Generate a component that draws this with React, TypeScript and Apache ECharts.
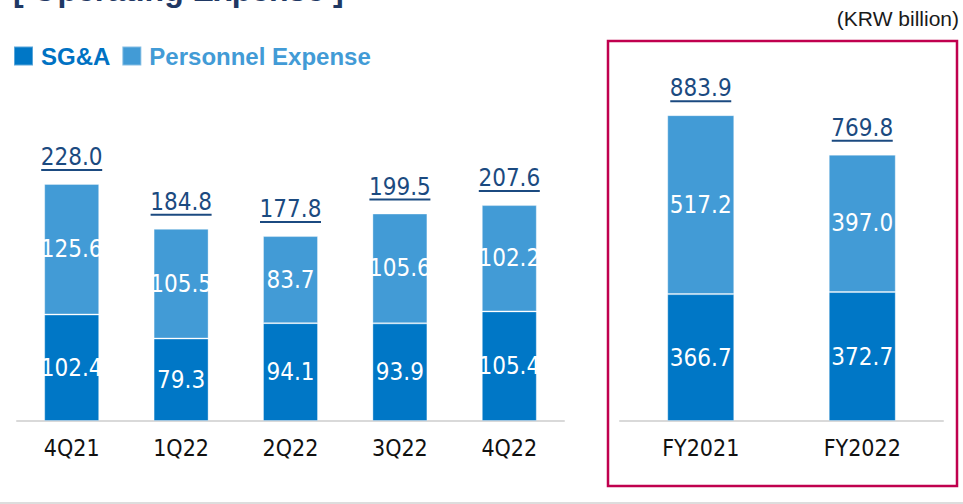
import React, { useEffect, useRef } from "react";
import * as echarts from "echarts";

const quarters = ["4Q21", "1Q22", "2Q22", "3Q22", "4Q22"];
const sgaQ = [102.4, 79.3, 94.1, 93.9, 105.4];
const personnelQ = [125.6, 105.5, 83.7, 105.6, 102.2];
const totalQ = [228.0, 184.8, 177.8, 199.5, 207.6];

const years = ["FY2021", "FY2022"];
const sgaY = [366.7, 372.7];
const personnelY = [517.2, 397.0];
const totalY = [883.9, 769.8];

const DARK = "#0077C6";
const LIGHT = "#429BD6";
const NAVY = "#1B4A80";
const NARROW = "'DejaVu Sans Condensed', 'Liberation Sans Narrow', Roboto, sans-serif";
const ARIAL = "'Liberation Sans', Arial, sans-serif";

export default function App() {
  const ref = useRef<HTMLDivElement>(null);

  useEffect(() => {
    if (!ref.current) return;
    const chart = echarts.init(ref.current, undefined, { renderer: "svg" });

    const segLabel = {
      show: true,
      position: "inside",
      color: "#ffffff",
      fontFamily: NARROW,
      fontSize: 24,
      formatter: (p: any) => Number(p.value).toFixed(1),
    };
    const totalLabel = {
      show: true,
      position: "top",
      distance: 13,
      formatter: (p: any) => `{v|${Number(p.value).toFixed(1)}}\n{u| }`,
      rich: {
        v: { color: NAVY, fontFamily: NARROW, fontSize: 24, lineHeight: 24, align: "center" },
        u: { height: 2, lineHeight: 2, fontSize: 1, width: 61, backgroundColor: NAVY, align: "center" },
      },
    };
    const itemBorder = { borderColor: "rgba(255,255,255,0.35)", borderWidth: 1 };

    const xAxisBase = {
      type: "category",
      axisTick: { show: false },
      axisLine: { lineStyle: { color: "#D9D9D9", width: 2 } },
      axisLabel: { color: "#111", fontFamily: NARROW, fontSize: 23, margin: 15 },
    };
    const yAxisBase = {
      type: "value",
      min: 0,
      show: false,
      splitLine: { show: false },
    };

    chart.setOption({
      animation: false,
      backgroundColor: "#ffffff",
      legend: {
        left: 13,
        top: 44,
        padding: 0,
        icon: "rect",
        itemWidth: 19,
        itemHeight: 19,
        itemGap: 11,
        selectedMode: false,
        textStyle: { fontFamily: ARIAL, fontSize: 24, fontWeight: "bold", padding: [0, 0, 0, 3] },
        data: [
          { name: "SG&A", textStyle: { color: "#0072C3" } },
          { name: "Personnel Expense", textStyle: { color: LIGHT } },
        ],
      },
      grid: [
        { left: 17, width: 547, top: 109, bottom: 83 },
        { left: 620, width: 323, top: 75, bottom: 83 },
      ],
      xAxis: [
        { ...xAxisBase, gridIndex: 0, data: quarters },
        { ...xAxisBase, gridIndex: 1, data: years },
      ],
      yAxis: [
        { ...yAxisBase, gridIndex: 0, max: 300 },
        { ...yAxisBase, gridIndex: 1, max: 1000 },
      ],
      graphic: [
        {
          type: "text",
          left: 13,
          top: -26,
          style: { text: "[ Operating Expense ]", fill: "#1F3864", font: `bold 32px ${ARIAL}` },
        },
        {
          type: "text",
          right: 4,
          top: 8,
          style: { text: "(KRW billion)", fill: "#1a1a1a", font: `21px ${ARIAL}` },
        },
        {
          type: "rect",
          shape: { x: 608, y: 41, width: 349, height: 445 },
          style: { fill: "none", stroke: "#C0004E", lineWidth: 2.5 },
          z: -1,
        },
        {
          type: "line",
          shape: { x1: 0, y1: 503, x2: 963, y2: 503 },
          style: { stroke: "#DDDDDD", lineWidth: 2 },
        },
      ],
      series: [
        {
          name: "SG&A",
          type: "bar",
          stack: "q",
          xAxisIndex: 0,
          yAxisIndex: 0,
          barWidth: 55,
          barGap: "-100%",
          data: sgaQ,
          itemStyle: { color: DARK, ...itemBorder },
          label: segLabel,
        },
        {
          name: "Personnel Expense",
          type: "bar",
          stack: "q",
          xAxisIndex: 0,
          yAxisIndex: 0,
          barWidth: 55,
          barGap: "-100%",
          data: personnelQ,
          itemStyle: { color: LIGHT, ...itemBorder },
          label: segLabel,
        },
        {
          name: "Total",
          type: "bar",
          xAxisIndex: 0,
          yAxisIndex: 0,
          barWidth: 55,
          barGap: "-100%",
          data: totalQ,
          itemStyle: { color: "rgba(0,0,0,0)" },
          label: totalLabel,
          z: 1,
        },
        {
          name: "SG&A",
          type: "bar",
          stack: "fy",
          xAxisIndex: 1,
          yAxisIndex: 1,
          barWidth: 67,
          barGap: "-100%",
          data: sgaY,
          itemStyle: { color: DARK, ...itemBorder },
          label: segLabel,
        },
        {
          name: "Personnel Expense",
          type: "bar",
          stack: "fy",
          xAxisIndex: 1,
          yAxisIndex: 1,
          barWidth: 67,
          barGap: "-100%",
          data: personnelY,
          itemStyle: { color: LIGHT, ...itemBorder },
          label: segLabel,
        },
        {
          name: "Total",
          type: "bar",
          xAxisIndex: 1,
          yAxisIndex: 1,
          barWidth: 67,
          barGap: "-100%",
          data: totalY,
          itemStyle: { color: "rgba(0,0,0,0)" },
          label: totalLabel,
          z: 1,
        },
      ],
    });

    return () => chart.dispose();
  }, []);

  return (
    <div
      ref={ref}
      style={{ position: "absolute", left: 0, top: 0, width: 963, height: 504 }}
    />
  );
}
